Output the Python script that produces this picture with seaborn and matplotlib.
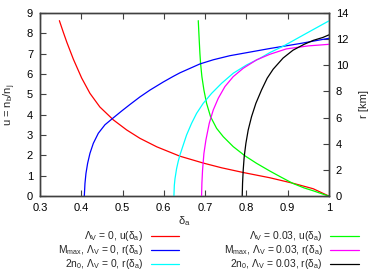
import numpy as np
import pandas as pd
import seaborn as sns
import matplotlib.pyplot as plt

# curves (delta_a, value)
red_d = [0.347, 0.356, 0.365, 0.381, 0.401, 0.421, 0.445, 0.478, 0.510, 0.542, 0.583, 0.639,
         0.696, 0.740, 0.792, 0.857, 0.913, 0.962, 1.0]
red_u = [8.62, 8.08, 7.56, 6.72, 5.80, 5.05, 4.38, 3.74, 3.25, 2.84, 2.42, 1.96,
         1.62, 1.39, 1.16, 0.90, 0.63, 0.36, 0.0]

green_d = [0.6835, 0.6858, 0.6875, 0.6891, 0.6923, 0.6972, 0.7036, 0.7133, 0.7279, 0.7440,
           0.7682, 0.7965, 0.8247, 0.8570, 0.885, 0.913, 0.940, 0.962, 0.985, 1.0]
green_u = [8.62, 7.67, 7.01, 6.52, 5.87, 5.21, 4.56, 3.90, 3.33, 2.92,
           2.43, 1.98, 1.61, 1.23, 0.92, 0.62, 0.40, 0.26, 0.10, 0.0]

blue_d = [0.4074, 0.409, 0.4114, 0.4154, 0.4211, 0.4292, 0.4413, 0.4574, 0.4776, 0.4978, 0.518,
          0.5422, 0.5664, 0.5987, 0.6229, 0.639, 0.6875, 0.720, 0.760, 0.857, 0.930, 1.0]
blue_r = [0.0, 0.97, 1.73, 2.50, 3.27, 4.03, 4.80, 5.45, 5.98, 6.50, 7.00,
          7.58, 8.10, 8.72, 9.15, 9.42, 10.1, 10.42, 10.73, 11.28, 11.66, 12.06]

cyan_d = [0.6245, 0.6255, 0.627, 0.631, 0.635, 0.6391, 0.6471, 0.6552, 0.6673, 0.6794, 0.6955,
          0.7158, 0.7400, 0.7682, 0.8005, 0.8328, 0.8570, 0.889, 0.946, 1.0]
cyan_r = [0.0, 0.82, 1.30, 2.10, 2.66, 3.14, 3.90, 4.67, 5.56, 6.32, 7.09,
          7.85, 8.62, 9.39, 10.02, 10.53, 10.97, 11.45, 12.45, 13.39]

mag_d = [0.6915, 0.6923, 0.6939, 0.6972, 0.7020, 0.7101, 0.7198, 0.7319, 0.7481, 0.7682,
         0.7925, 0.8247, 0.857, 0.897, 0.950, 1.0]
mag_r = [0.0, 0.97, 1.99, 3.26, 4.28, 5.56, 6.58, 7.47, 8.37, 9.13,
         9.77, 10.41, 10.84, 11.25, 11.48, 11.6]

black_d = [0.790, 0.7908, 0.7924, 0.7948, 0.7989, 0.8045, 0.8126, 0.8231, 0.8368, 0.8505,
           0.865, 0.889, 0.913, 0.940, 0.962, 0.985, 1.0]
black_r = [0.0, 0.97, 1.99, 3.01, 4.03, 5.05, 6.07, 7.09, 8.11, 9.01,
           9.70, 10.55, 11.15, 11.6, 11.9, 12.12, 12.32]

labels = [r'$\Lambda_\mathrm{V}$ = 0, u($\delta_\mathrm{a}$)',
          r'M$_\mathrm{max}$, $\Lambda_\mathrm{V}$ = 0, r($\delta_\mathrm{a}$)',
          r'2n$_\mathrm{0}$, $\Lambda_\mathrm{V}$ = 0, r($\delta_\mathrm{a}$)',
          r'$\Lambda_\mathrm{V}$ = 0.03, u($\delta_\mathrm{a}$)',
          r'M$_\mathrm{max}$, $\Lambda_\mathrm{V}$ = 0.03, r($\delta_\mathrm{a}$)',
          r'2n$_\mathrm{0}$, $\Lambda_\mathrm{V}$ = 0.03, r($\delta_\mathrm{a}$)']

sns.set_style('ticks')
plt.rcParams['font.family'] = ['Liberation Sans', 'DejaVu Sans']
plt.rcParams['mathtext.fontset'] = 'custom'
plt.rcParams['mathtext.rm'] = 'Liberation Sans'
plt.rcParams['mathtext.it'] = 'Liberation Sans'
plt.rcParams['font.size'] = 8

fig = plt.figure(figsize=(3.92, 2.75), dpi=100)
ax = fig.add_axes([0.102, 0.287, 0.737, 0.666])
ax2 = ax.twinx()

lw = 0.9
sns.lineplot(x=red_d, y=red_u, ax=ax, color='#ff0000', lw=lw, sort=False, estimator=None, label=labels[0], legend=False)
sns.lineplot(x=blue_d, y=blue_r, ax=ax2, color='#0000ff', lw=lw, sort=False, estimator=None, label=labels[1], legend=False)
sns.lineplot(x=cyan_d, y=cyan_r, ax=ax2, color='#00ffff', lw=lw, sort=False, estimator=None, label=labels[2], legend=False)
sns.lineplot(x=green_d, y=green_u, ax=ax, color='#00ff00', lw=lw, sort=False, estimator=None, label=labels[3], legend=False)
sns.lineplot(x=mag_d, y=mag_r, ax=ax2, color='#ff00ff', lw=lw, sort=False, estimator=None, label=labels[4], legend=False)
sns.lineplot(x=black_d, y=black_r, ax=ax2, color='#000000', lw=lw, sort=False, estimator=None, label=labels[5], legend=False)

ax.set_xlim(0.3, 1.0)
ax.set_ylim(0, 9)
ax2.set_ylim(0, 14)
ax.set_xticks(np.arange(0.3, 1.01, 0.1))
ax.set_xticklabels(['0.3', '0.4', '0.5', '0.6', '0.7', '0.8', '0.9', '1'])
ax.set_yticks(range(0, 10))
ax2.set_yticks(range(0, 15, 2))
# gnuplot-like inward ticks, mirrored on top
tk = dict(direction='in', length=4, width=0.8, color='#404040', labelcolor='black', pad=5)
ax.tick_params(axis='x', which='major', bottom=True, top=True, **tk)
ax.tick_params(axis='y', which='major', left=True, right=False, **tk)
ax2.tick_params(axis='y', which='major', right=True, left=False, **tk)
for a in (ax, ax2):
    for s in a.spines.values():
        s.set_visible(True)
        s.set_color('#404040')
        s.set_linewidth(1.0)

ax.set_xlabel(r'$\delta_\mathrm{a}$', labelpad=1)
ax.set_ylabel(r'u = n$_\mathrm{b}$/n$_\mathrm{j}$', labelpad=6)
ax2.set_ylabel('r [km]', labelpad=8)

handles = ax.get_lines() + ax2.get_lines()
hmap = {h.get_label(): h for h in handles}
fig.legend([hmap[l] for l in labels], labels, ncol=2, markerfirst=False, frameon=False,
           loc='lower center', bbox_to_anchor=(0.532, -0.02), fontsize=7.4,
           handlelength=2.8, columnspacing=4.3, labelspacing=0.0, handletextpad=0.7)

fig.savefig('out.png', dpi=100)
